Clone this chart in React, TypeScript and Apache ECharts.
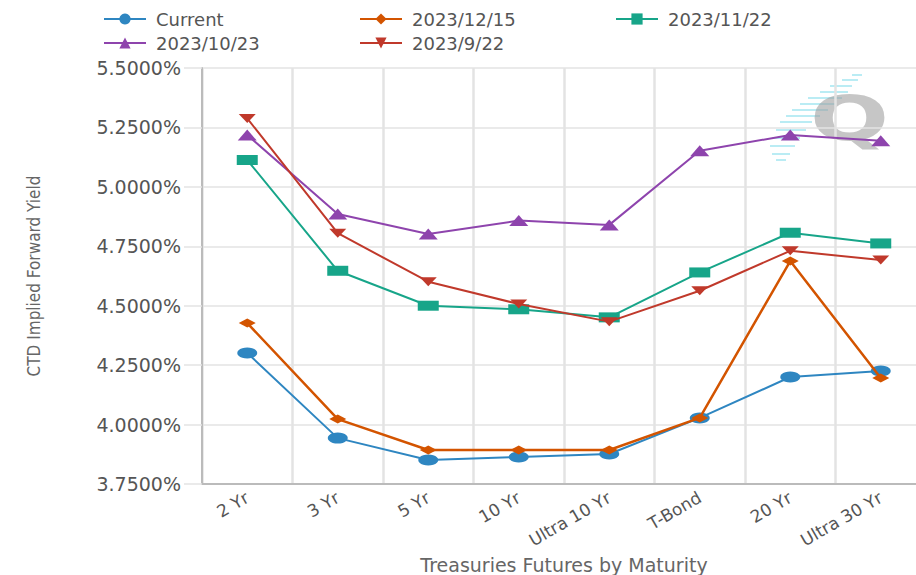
import React, { useEffect, useRef } from "react";
import * as echarts from "echarts";

const categories = ["2 Yr", "3 Yr", "5 Yr", "10 Yr", "Ultra 10 Yr", "T-Bond", "20 Yr", "Ultra 30 Yr"];
const seriesNames = ["Current", "2023/12/15", "2023/11/22", "2023/10/23", "2023/9/22"];
const current = [4.301, 3.943, 3.851, 3.864, 3.876, 4.028, 4.2, 4.225];
const d20231215 = [4.427, 4.023, 3.893, 3.893, 3.893, 4.028, 4.688, 4.196];
const d20231122 = [5.113, 4.647, 4.5, 4.485, 4.451, 4.64, 4.807, 4.762];
const d20231023 = [5.218, 4.886, 4.802, 4.858, 4.84, 5.152, 5.218, 5.194];
const d20230922 = [5.288, 4.805, 4.601, 4.507, 4.433, 4.563, 4.731, 4.692];
const yTicks = { min: 3.75, max: 5.5, interval: 0.25 };

const colors = ["#2e86c1", "#d35400", "#17a589", "#8e44ad", "#c0392b"];
const symbols = ["circle", "diamond", "rect", "triangle", "path://M0,0 L10,0 L5,8 Z"];
const sizes: any[] = [[20, 11], [17, 9], [21, 10], [19, 11], [17, 9]];
const allData = [current, d20231215, d20231122, d20231023, d20230922];

const streaks: number[][] = [
  [75, 852, 862], [80, 842, 858], [86, 830, 852], [92, 820, 848], [98, 808, 842],
  [104, 800, 835], [110, 792, 828], [116, 786, 820], [122, 780, 812], [130, 776, 806],
  [138, 772, 800], [146, 770, 795], [154, 772, 790], [160, 776, 786],
];

export default function App() {
  const ref = useRef<HTMLDivElement>(null);
  useEffect(() => {
    if (!ref.current) return;
    const chart = echarts.init(ref.current, null, { renderer: "svg" });
    const graphics: any[] = streaks.map((s) => ({
      type: "line",
      shape: { x1: s[1], y1: s[0], x2: s[2], y2: s[0] },
      style: { stroke: "rgba(130,220,235,0.55)", lineWidth: 2 },
      z: 0,
    }));
    graphics.push({
      type: "text",
      left: 810,
      top: 88,
      scaleX: 1.5,
      style: {
        text: "Q",
        fontSize: 62,
        fontWeight: "bold",
        fontFamily: "DejaVu Sans",
        fill: "rgba(160,160,160,0.6)",
      },
      z: 0,
    });
    chart.setOption({
      animation: false,
      backgroundColor: "#ffffff",
      color: colors,
      graphic: graphics,
      legend: {
        data: seriesNames,
        left: 103,
        top: 10,
        width: 780,
        padding: 0,
        itemWidth: 42,
        itemHeight: 14,
        itemGap: 6,
        textStyle: {
          fontFamily: "DejaVu Sans",
          fontSize: 18,
          color: "#555",
          width: 197,
          lineHeight: 14,
          padding: [0, 0, 0, 5],
        },
      },
      grid: { left: 202, right: -10, top: 68, bottom: 91, outerBoundsMode: "none", containLabel: false },
      xAxis: {
        type: "category",
        data: categories,
        boundaryGap: true,
        name: "Treasuries Futures by Maturity",
        nameLocation: "middle",
        nameGap: 64,
        nameTextStyle: { fontFamily: "DejaVu Sans", fontSize: 19, color: "#666" },
        axisLine: { lineStyle: { color: "#bbb", width: 2 } },
        axisTick: { show: false },
        axisLabel: {
          rotate: 30,
          interval: 0,
          margin: 12,
          fontFamily: "DejaVu Sans",
          fontSize: 17,
          color: "#555",
        },
        splitLine: { show: true, lineStyle: { color: "#e3e3e3", width: 2.5 } },
      },
      yAxis: {
        type: "value",
        min: yTicks.min,
        max: yTicks.max,
        interval: yTicks.interval,
        name: "CTD Implied Forward Yield",
        nameLocation: "middle",
        nameGap: 160,
        nameTextStyle: {
          fontFamily: "Liberation Sans Narrow, DejaVu Sans Condensed, sans-serif",
          fontSize: 17,
          color: "#666",
        },
        axisLine: { show: true, lineStyle: { color: "#bbb", width: 2 } },
        axisTick: { show: true, length: 18, lineStyle: { color: "#e3e3e3", width: 1.5 } },
        axisLabel: {
          margin: 21,
          fontFamily: "DejaVu Sans",
          fontSize: 19,
          color: "#555",
          formatter: (v: number) => v.toFixed(4) + "%",
        },
        splitLine: { show: true, lineStyle: { color: "#e3e3e3", width: 1.5 } },
      },
      series: seriesNames.map((name, i) => ({
        name,
        type: "line",
        data: allData[i],
        symbol: symbols[i],
        symbolSize: sizes[i],
        showAllSymbol: true,
        lineStyle: { width: i === 1 ? 2.5 : 2, color: colors[i] },
        itemStyle: { color: colors[i] },
        z: 3 + i,
      })),
    });
    return () => chart.dispose();
  }, []);
  return (
    <div
      ref={ref}
      style={{ position: "absolute", left: 0, top: 0, width: 916, height: 575 }}
    />
  );
}
